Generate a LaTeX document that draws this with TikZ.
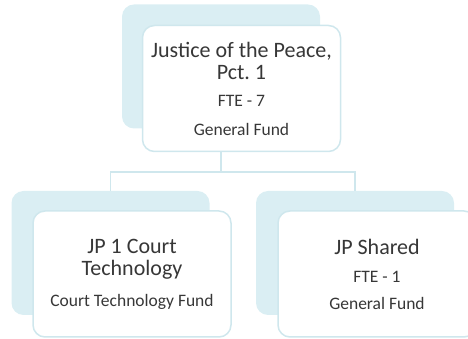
\documentclass[tikz,border=0pt]{standalone}
\usepackage{fontspec}
\setmainfont{Carlito}
\usepackage{xcolor}
\usetikzlibrary{positioning,calc}
\frenchspacing

\definecolor{shadeblue}{RGB}{218,238,243}
\definecolor{edgeblue}{RGB}{207,231,237}
\definecolor{textgray}{RGB}{55,55,55}

\begin{document}
\begin{tikzpicture}[x=1pt, y=1pt,
    backbox/.style={rectangle, fill=shadeblue, rounded corners=12pt, minimum width=198pt, minimum height=124pt, inner sep=0pt},
    frontbox/.style={rectangle, draw=edgeblue, line width=1.5pt, fill=white, rounded corners=12pt, minimum width=198pt, minimum height=126pt, inner sep=0pt, align=center, text=textgray, font=\fontsize{17.5}{22}\selectfont},
    conn/.style={draw=edgeblue, line width=1.8pt}
]
    \clip (0,0) rectangle (468,339);

    % Back boxes
    \node[backbox] (tback) at (221, 272.5) {};
    \node[backbox] (lback) at (110.5, 86) {};
    \node[backbox] (rback) at (355, 86) {};

    % Connections
    \coordinate (split) at (221, 167);
    \draw[conn] (tback.south) -- (split) -| (lback.north);
    \draw[conn] (split) -| (rback.north);

    % Front boxes
    \node[frontbox] (top) at (241.5, 250.5) {{\fontsize{22}{22}\selectfont Justice of the Peace,}\\{\fontsize{22}{22}\selectfont Pct. 1}\\[5pt]FTE - 7\\[7pt]General Fund};
    \node[frontbox] (jp1) at (132, 65) {{\fontsize{22}{22}\selectfont JP 1 Court}\\{\fontsize{22}{22}\selectfont Technology}\\[9pt]Court Technology Fund};
    \node[frontbox] (shared) at (377, 65) {{\fontsize{22}{22}\selectfont JP Shared}\\[6pt]FTE - 1\\[5pt]General Fund};
\end{tikzpicture}
\end{document}
